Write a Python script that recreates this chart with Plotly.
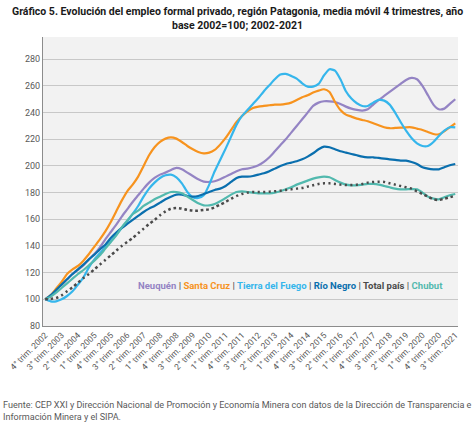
import plotly.graph_objects as go

quarters = []
q, y = 4, 2002
for _ in range(76):
    quarters.append(f"{q}° trim. {y}")
    q += 1
    if q > 4:
        q = 1
        y += 1

neuquen = [100, 103, 107, 111, 115, 119, 122, 125.5, 130, 134, 139, 145, 150.5, 156, 162, 167.5, 173, 178, 183, 187.5,
           191, 193.5, 195, 197, 198.5, 197.5, 195, 192.5, 190, 188.3, 188, 188.5, 190, 192, 194, 196, 197.5, 198, 199, 200.5,
           203, 206.5, 211, 215.5, 220, 225, 230, 235, 240, 245, 247.5, 248.5, 248.5, 248, 246.5, 244.5, 243, 242, 241.5, 242.5,
           246, 249.5, 252.5, 255.5, 258.5, 261.5, 264.5, 266, 265, 260, 253, 246, 242.5, 243, 246.5, 250]
santa_cruz = [100, 103, 108, 113, 119, 122.5, 125, 129, 134, 139.5, 145, 151, 158, 166, 174, 181, 186, 192, 200, 208,
              214, 218, 220.5, 221.5, 220.5, 218, 215, 212.5, 210.5, 209.5, 210, 212, 216, 221, 227, 233, 237.5, 241, 243.5, 244.5,
              245, 245.5, 246, 246, 246.5, 247.5, 249.5, 251.5, 253, 255, 256.5, 257.5, 255.5, 248, 242, 238.5, 237, 235.5, 234.5, 233.5,
              232, 230.5, 229, 228.3, 228.5, 228.7, 229, 229, 228, 227, 225.5, 224, 223.7, 226, 229, 232]
tierra_fuego = [100, 98.5, 98.5, 100, 102.5, 106, 111, 116.5, 124, 130, 134.5, 139, 143.5, 148.5, 153.5, 158.5, 164, 170, 177, 183,
                187.5, 191, 193, 193.5, 191.5, 187, 180.5, 176.5, 176, 178, 186, 196, 204.5, 213, 222, 231, 237.5, 242, 246.5, 251,
                256, 260.5, 265, 268.5, 269, 267.5, 265.5, 262, 259.5, 259.5, 261.5, 268, 272.5, 271.5, 265, 256, 250.5, 247, 245, 245,
                247.5, 249.5, 249, 246, 240, 233, 226.5, 221, 217, 215, 215, 218, 222.5, 226.5, 229, 229]
rio_negro = [100, 103, 107, 111, 115, 119, 122.5, 126, 130, 133.5, 137.5, 141, 146, 150, 153.5, 156.5, 159.5, 162.5, 165.5, 168,
             170, 172.5, 175, 177, 178.5, 178.5, 177.5, 177, 177.5, 179, 180.5, 182, 183, 185, 188, 191, 192, 192, 192.5, 193.5,
             194.5, 196, 198, 200, 201.5, 202.5, 203.5, 205, 207, 209.5, 212.5, 214.5, 214, 212.5, 211, 210, 209, 208, 207, 206.5,
             206.5, 206, 205.5, 205, 204.5, 204, 204, 203, 201.5, 199, 198, 197.5, 197.5, 199, 200.5, 201.5]
total_pais = [100, 100.3, 101, 103, 106, 109, 112.5, 116, 119, 122.5, 126, 129.5, 133, 136.5, 140, 143, 146, 149.5, 153, 156.5,
              159.5, 163, 166, 168, 168.5, 168, 167, 166.5, 166.5, 167, 167.5, 169, 171, 173, 175.5, 177.5, 179, 180, 180.5, 180.5,
              180.5, 180.7, 181, 181.5, 182, 182.5, 183, 183.5, 184.5, 185.5, 186.5, 187, 187, 186.5, 186, 185.7, 185.7, 186, 186.5, 187.5,
              188, 188.2, 188, 187, 186, 185, 184, 183, 181, 179, 177, 175, 174.5, 175.5, 176.5, 177.7]
chubut = [100, 102, 105, 108.5, 112, 115.5, 119, 122, 125.5, 129, 133, 138, 143, 148, 154, 159, 164, 166.5, 170, 172.5,
          175, 177, 179, 180.5, 180.5, 179.5, 177, 174.5, 172, 170.5, 170.5, 171.5, 173.5, 176, 178.5, 180.5, 181, 180.5, 180, 179.5,
          179.5, 179.5, 180, 181, 182.5, 184, 186, 187.5, 189, 190.5, 191.5, 192, 191.5, 189.5, 187.5, 186, 185.5, 185.5, 186, 186.5,
          186.5, 186, 185, 184, 183, 182.5, 182.5, 182.7, 182.5, 180, 177, 175.5, 175, 176.5, 178, 179]

series = [
    ("Neuquén", neuquen, "#9484C4", "solid"),
    ("Santa Cruz", santa_cruz, "#F7931E", "solid"),
    ("Tierra del Fuego", tierra_fuego, "#35B6EC", "solid"),
    ("Río Negro", rio_negro, "#0A6FAE", "solid"),
    ("Chubut", chubut, "#52B9AE", "solid"),
    ("Total país", total_pais, "#4A4A4A", "2.5px,3px"),
]

x = list(range(len(quarters)))
fig = go.Figure()
for name, vals, color, dash in series:
    fig.add_trace(go.Scatter(
        x=x, y=vals, name=name, mode="lines",
        line=dict(color=color, width=2.5 if dash != "solid" else 2.2, dash=dash, shape="spline", smoothing=0.6),
    ))

tick_idx = list(range(0, 76, 3))
fig.update_layout(
    width=474, height=431,
    margin=dict(l=43, r=16, t=37, b=105),
    paper_bgcolor="white", plot_bgcolor="#F2F2F2",
    showlegend=False,
    font=dict(family="Roboto", color="#595959", size=9),
    xaxis=dict(
        range=[-0.4, 75.5], tickmode="array", tickvals=tick_idx,
        ticktext=[quarters[i] for i in tick_idx], tickangle=-45, automargin=False,
        showgrid=False, showline=True, linecolor="#8C8C8C", linewidth=1,
        ticks="", tickfont=dict(size=8.5, color="#595959"), zeroline=False,
    ),
    yaxis=dict(
        range=[80, 296.7], tickmode="array", tickvals=list(range(80, 281, 20)), automargin=False,
        showgrid=True, gridcolor="#C8C8C8", gridwidth=1,
        showline=True, linecolor="#8C8C8C", linewidth=1,
        ticks="", tickfont=dict(size=9, color="#595959"), zeroline=False,
    ),
)

sep = '<span style="color:#595959"> | </span>'
legend_txt = sep.join([
    f'<span style="color:{c}">{n}</span>'
    for n, c in [("Neuquén", "#9484C4"), ("Santa Cruz", "#F7931E"), ("Tierra del Fuego", "#35B6EC"),
                 ("Río Negro", "#0A6FAE"), ("Total país", "#4A4A4A"), ("Chubut", "#52B9AE")]
])
fig.add_annotation(text="<b>" + legend_txt + "</b>", xref="paper", yref="paper",
                   x=(290.5 - 43) / 415, y=(326 - 285.7) / 289, xanchor="center", yanchor="middle",
                   showarrow=False, font=dict(size=9.5, family="Roboto"))

fig.add_annotation(
    text="<b>Gráfico 5. Evolución del empleo formal privado, región Patagonia, media móvil 4 trimestres, año<br>base 2002=100; 2002-2021</b>",
    xref="paper", yref="paper", x=(237 - 43) / 415, y=(326 - 19) / 289,
    xanchor="center", yanchor="middle", showarrow=False, align="center",
    font=dict(size=10.5, family="Roboto", color="#1a1a1a"))

fig.add_annotation(
    text="Fuente: CEP XXI y Dirección Nacional de Promoción y Economía Minera con datos de la Dirección de Transparencia e<br>Información Minera y el SIPA.",
    xref="paper", yref="paper", x=(1 - 43) / 415, y=(326 - 411) / 289,
    xanchor="left", yanchor="middle", showarrow=False, align="left",
    font=dict(size=9.05, family="Roboto", color="#595959"))

fig.write_html("out.html", config={"staticPlot": True, "displayModeBar": False},
               post_script="document.body.style.margin='0';document.body.style.padding='0';")
